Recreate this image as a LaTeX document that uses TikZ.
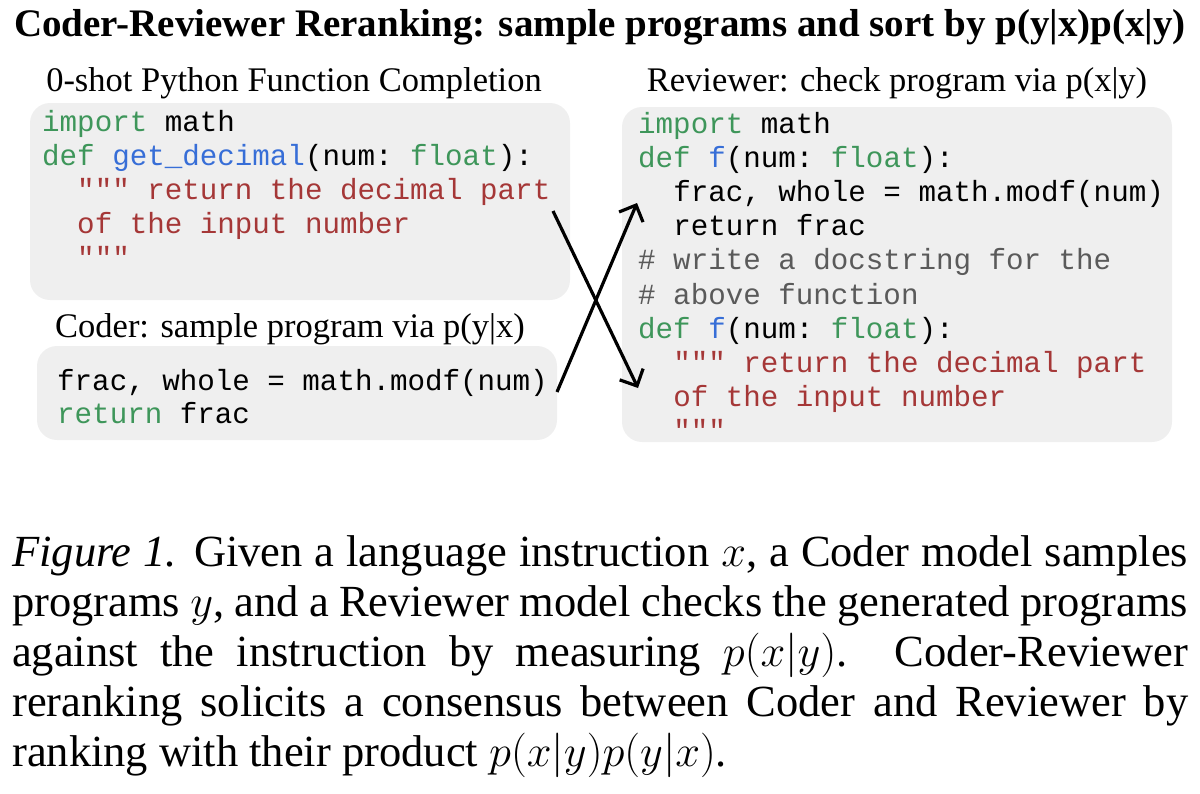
\RequirePackage{fix-cm}
\documentclass[tikz,border=0pt]{standalone}
\usepackage{fontspec}
\setmainfont{Liberation Serif}
\setmonofont{Liberation Mono}
\usetikzlibrary{arrows.meta}
\definecolor{boxgray}{RGB}{239,239,239}
\definecolor{kwgreen}{RGB}{62,150,90}
\definecolor{fnblue}{RGB}{55,110,215}
\definecolor{strred}{RGB}{165,55,55}
\definecolor{cmtgray}{RGB}{90,90,90}
\newcommand\kwd[1]{\textcolor{kwgreen}{#1}}
\newcommand\fnm[1]{\textcolor{fnblue}{#1}}
\newcommand\strg[1]{\textcolor{strred}{#1}}
\newcommand\cmt[1]{\textcolor{cmtgray}{#1}}
\begin{document}
\begin{tikzpicture}[x=1pt,y=-1pt,
  codebox/.style={fill=boxgray, rounded corners=20pt, inner sep=0pt},
  code/.style={anchor=base west, inner sep=0pt, font=\fontsize{29.2}{34}\ttfamily},
  lbl/.style={anchor=base, inner sep=0pt, font=\fontsize{34.5}{40}\selectfont},
  arr/.style={line width=3.2pt, -{Straight Barb[length=13pt,width=26pt]}}]
\useasboundingbox (0,0) rectangle (1200,793);

% title
\node[anchor=base, inner sep=0pt, font=\fontsize{39}{44}\selectfont\bfseries] (title) at (600,36)
  {Coder-Reviewer Reranking: sample programs and sort by p(y|x)p(x|y)};

% boxes
\node[codebox, minimum width=540pt, minimum height=197pt] (box1) at (300,201.5) {};
\node[codebox, minimum width=520pt, minimum height=94pt] (box2) at (297,393) {};
\node[codebox, minimum width=550pt, minimum height=335pt] (box3) at (897,274.5) {};

% labels
\node[lbl] (l1) at (294,91) {0-shot Python Function Completion};
\node[lbl] (l2) at (290,337) {Coder: sample program via p(y|x)};
\node[lbl] (l3) at (897,91) {Reviewer: check program via p(x|y)};

% box 1 code
\node[code] (a1) at (42,131) {\kwd{import} math};
\node[code] (a2) at (42,165) {\kwd{def} \fnm{get\_decimal}(num: \kwd{float}):};
\node[code] (a3) at (42,199) {~~\strg{""" return the decimal part}};
\node[code] (a4) at (42,233) {~~\strg{of the input number}};
\node[code] (a5) at (42,267) {~~\strg{"""}};

% box 2 code
\node[code] (b1) at (57,390) {frac, whole = math.modf(num)};
\node[code] (b2) at (57,423) {\kwd{return} frac};

% box 3 code
\node[code] (c1) at (638,133) {\kwd{import} math};
\node[code] (c2) at (638,167.2) {\kwd{def} \fnm{f}(num: \kwd{float}):};
\node[code] (c3) at (638,201.4) {~~frac, whole = math.modf(num)};
\node[code] (c4) at (638,235.6) {~~return frac};
\node[code] (c5) at (638,269.8) {\cmt{\# write a docstring for the}};
\node[code] (c6) at (638,304.0) {\cmt{\# above function}};
\node[code] (c7) at (638,338.2) {\kwd{def} \fnm{f}(num: \kwd{float}):};
\node[code] (c8) at (638,372.4) {~~\strg{""" return the decimal part}};
\node[code] (c9) at (638,406.6) {~~\strg{of the input number}};
\node[code] (c10) at (638,440.0) {~~\strg{"""}};

% arrows
\coordinate (p1) at (553,211);
\coordinate (q1) at (638,388);
\coordinate (p2) at (557,392);
\coordinate (q2) at (637,203);
\draw[arr] (p1) -- (q1);
\draw[arr] (p2) -- (q2);

% caption
\node[anchor=north west, inner sep=0pt, text width=1176pt, align=justify,
      font=\fontsize{44.5}{50.2}\selectfont] (cap) at (12,535)
{\hyphenpenalty=10000 \textit{Figure 1.} Given a language instruction $x$, a Coder model samples\linebreak
programs $y$, and a Reviewer model checks the generated programs\linebreak
against the instruction by measuring $p(x|y)$.  Coder-Reviewer\linebreak
reranking solicits a consensus between Coder and Reviewer by\linebreak
ranking with their product $p(x|y)p(y|x)$.};
\end{tikzpicture}
\end{document}
